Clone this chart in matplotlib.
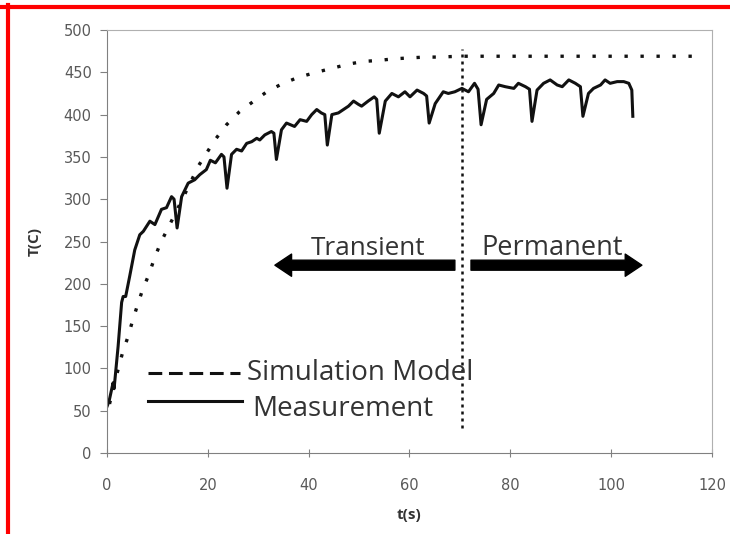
import matplotlib.pyplot as plt
from matplotlib.lines import Line2D
from matplotlib.patches import FancyArrowPatch

# measured temperature (solid curve)
t_meas = [0, 0.4, 1.2, 1.4, 2.2, 2.9, 3.2, 3.7, 4.5, 5.5, 6.5, 7.2, 8.5, 9.5,
          10.8, 11.8, 12.8, 13.3, 13.9, 14.8, 16.1, 17.4, 18.4, 19.7, 20.5,
          21.5, 22.7, 23.2, 23.8, 24.7, 25.7, 26.7, 27.7, 28.7, 29.7, 30.3,
          31.3, 32.6, 33.1, 33.6, 34.6, 35.6, 37.2, 38.3, 39.6, 40.6, 41.6,
          42.5, 43.2, 43.7, 44.6, 45.9, 46.9, 47.9, 48.9, 49.9, 50.5, 51.8,
          53.0, 53.5, 54.0, 55.2, 56.5, 57.8, 59.1, 60.1, 61.5, 62.8, 63.4,
          63.9, 65.1, 66.7, 67.7, 69.0, 70.4, 71.7, 72.9, 73.6, 74.2, 75.3,
          76.7, 77.7, 79.0, 80.7, 81.6, 83.0, 83.8, 84.3, 85.3, 86.6, 87.9,
          89.3, 90.3, 91.6, 92.9, 93.9, 94.4, 95.5, 96.5, 97.9, 98.8, 99.8,
          101.2, 102.5, 103.5, 104.1, 104.3]
T_meas = [55, 61, 83, 76, 126, 178, 185, 185, 209, 240, 258, 262, 274, 270,
          288, 290, 303, 300, 266, 303, 319, 323, 329, 335, 346,
          343, 353, 350, 313, 353, 359, 357, 366, 368, 372, 370,
          376, 380, 378, 347, 382, 390, 386, 394, 392, 400, 406,
          402, 400, 364, 400, 402, 406, 410, 416, 412, 410, 416,
          421, 418, 378, 416, 425, 421, 427, 421, 429, 425, 422,
          390, 413, 427, 425, 427, 431, 427, 437, 430, 388, 418,
          425, 435, 433, 431, 437, 433, 430, 392, 429, 437, 441,
          435, 433, 441, 437, 433, 398, 425, 431, 435, 441, 437,
          439, 439, 437, 429, 398]

# simulation model (dotted curve)
t_sim = [0.5, 1.5, 3.1, 4.2, 5.0, 6.0, 7.0, 8.3, 9.4, 10.6, 12.1, 13.2, 15.1,
         18.2, 21.4, 23.7, 26.2, 28.9, 31.7, 34.6, 37.9, 41.5, 44.8, 48.1,
         51.2, 53.8, 57, 60, 63, 66, 69.7, 75, 85, 95, 105, 118]
T_sim = [58, 83, 119, 138, 155, 174, 192, 211, 230, 248, 266, 279, 302,
         340, 370, 388, 403, 415, 427, 436, 444, 450, 455, 460,
         463, 464, 466, 467, 468, 468, 469, 469, 469, 469, 469, 469]

t_split = 70.5
x_ticks = [0, 20, 40, 60, 80, 100, 120]
y_ticks = [0, 50, 100, 150, 200, 250, 300, 350, 400, 450, 500]

plt.rcParams['font.family'] = ['Open Sans', 'DejaVu Sans']

fig = plt.figure(figsize=(7.3, 5.34), dpi=100)
ax = fig.add_axes([0.1466, 0.1517, 0.8287, 0.7921])

ax.plot(t_sim, T_sim, color='#111111', lw=2.4, linestyle=(0, (1, 3.8)),
        dash_capstyle='butt')
ax.plot(t_meas, T_meas, color='#111111', lw=2.2)
ax.plot([t_split, t_split], [30, 477], color='#111111', lw=1.8,
        linestyle=(0, (1.2, 1.6)))

# arrows + labels
for a, b in [(69, 33.3), (72.2, 106.1)]:
    ax.add_patch(FancyArrowPatch((a, 222), (b, 222), shrinkA=0, shrinkB=0,
                                 arrowstyle='simple,head_width=1.6,head_length=1.2,tail_width=0.72',
                                 mutation_scale=10, color='black'))
ax.text(51.8, 234.6, 'Transient', fontsize=18.8, color='#333333', ha='center', va='baseline')
ax.text(88.3, 234.6, 'Permanent', fontsize=19.5, color='#333333', ha='center', va='baseline')

# hand drawn legend
ax.plot([8.1, 26.4], [95, 95], color='#111111', lw=2.2, linestyle=(0, (4.5, 2.2)))
ax.plot([8.1, 26.8], [61, 61], color='#111111', lw=2.2)
ax.text(27.8, 94, 'Simulation Model', fontsize=20, color='#333333', va='center')
ax.text(28.8, 52, 'Measurement', fontsize=20, color='#333333', va='center')

ax.set_xlim(0, 120)
ax.set_ylim(0, 500)
ax.set_xticks(x_ticks)
ax.set_yticks(y_ticks)
ax.set_xticklabels(x_ticks, family='DejaVu Sans')
ax.set_yticklabels(y_ticks, family='DejaVu Sans')
ax.tick_params(axis='both', labelsize=10.5, labelcolor='#595959', color='#808080')
ax.tick_params(axis='x', direction='inout', length=6, pad=15)
ax.tick_params(axis='y', direction='out', length=5, pad=6)
for s in ['left', 'bottom']:
    ax.spines[s].set_color('#808080')
for s in ['top', 'right']:
    ax.spines[s].set_color('#b0b0b0')
ax.set_xlabel('t(s)', fontsize=11, fontweight='bold', color='#333333', labelpad=11)
ax.set_ylabel('T(C)', fontsize=11, fontweight='bold', color='#333333', labelpad=16)

# red frame on top and left
fig.add_artist(Line2D([0, 1], [0.987, 0.987], color='red', lw=3, transform=fig.transFigure))
fig.add_artist(Line2D([0.0110, 0.0110], [0, 0.99], color='red', lw=3, transform=fig.transFigure))

fig.savefig('out.png', dpi=100)
